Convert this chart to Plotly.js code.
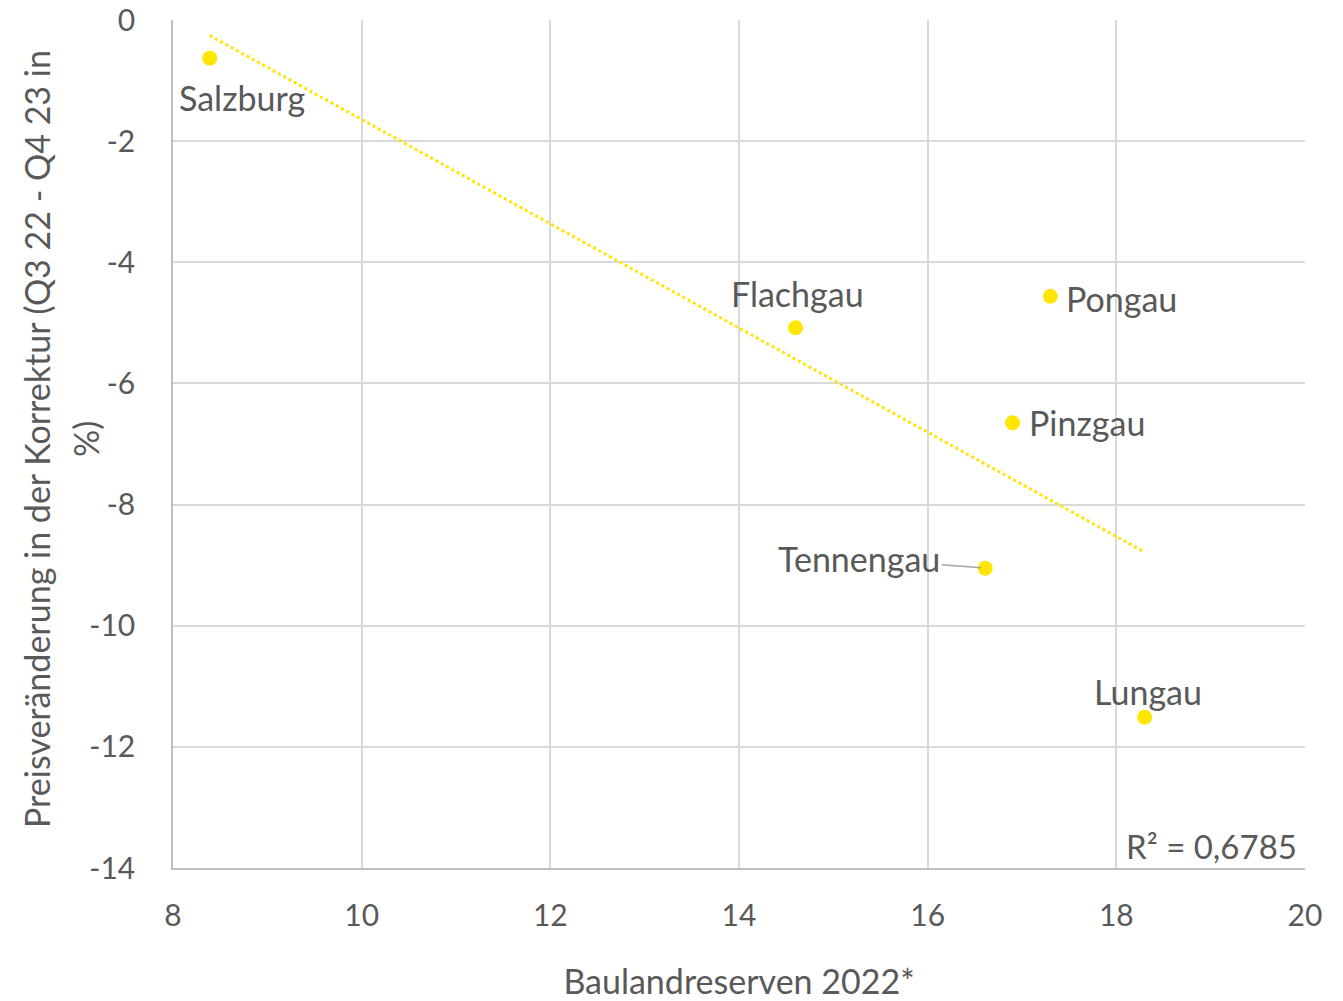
<!DOCTYPE html>
<html>
<head>
<meta charset="utf-8">
<script src="https://cdn.plot.ly/plotly-3.0.1.min.js"></script>
<style>
  body { margin: 0; background: #fff; }
  #chart { width: 1343px; height: 1001px; }
</style>
</head>
<body>
<div id="chart"></div>
<script>
// Bezirke: Baulandreserven vs. Preisänderung
var regions = ['Salzburg', 'Flachgau', 'Pongau', 'Pinzgau', 'Tennengau', 'Lungau'];
var reserves = [8.39, 14.60, 17.30, 16.90, 16.61, 18.30];
var priceChange = [-0.63, -5.08, -4.56, -6.65, -9.05, -11.51];
var rSquaredLabel = 'R² = 0,6785';

// axis ticks (Excel style hyphen minus)
var xTicks = [8, 10, 12, 14, 16, 18, 20];
var yTicks = [0, -2, -4, -6, -8, -10, -12, -14];
var yTickText = ['0', '-2', '-4', '-6', '-8', '-10', '-12', '-14'];

// linear trend (least squares) over the points
var n = reserves.length;
var mx = reserves.reduce((a, b) => a + b, 0) / n;
var my = priceChange.reduce((a, b) => a + b, 0) / n;
var sxy = 0, sxx = 0;
for (var i = 0; i < n; i++) {
  sxy += (reserves[i] - mx) * (priceChange[i] - my);
  sxx += (reserves[i] - mx) * (reserves[i] - mx);
}
var slope = sxy / sxx;
var intercept = my - slope * mx;
var xMin = Math.min(...reserves), xMax = Math.max(...reserves);

var yellow = '#FFE600';
var textCol = '#595959';
var fontFam = 'Lato, "Open Sans", sans-serif';

var trend = {
  x: [xMin, xMax],
  y: [intercept + slope * xMin, intercept + slope * xMax],
  type: 'scatter',
  mode: 'lines',
  line: {color: yellow, width: 3, dash: 'dot'},
  hoverinfo: 'skip'
};

var points = {
  x: reserves,
  y: priceChange,
  text: regions,
  type: 'scatter',
  mode: 'markers',
  marker: {color: yellow, size: 15},
  hoverinfo: 'text+x+y'
};

// label placement per region (offsets in px)
var labelPos = {
  Salzburg:  {xanchor: 'left',   xshift: -33, yshift: -39},
  Flachgau:  {xanchor: 'center', xshift: 2,   yshift: 34},
  Pongau:    {xanchor: 'left',   xshift: 14,  yshift: -2},
  Pinzgau:   {xanchor: 'left',   xshift: 14,  yshift: 0},
  Lungau:    {xanchor: 'center', xshift: 3,   yshift: 26}
};

var labelFont = {family: fontFam, size: 34, color: textCol};

var annotations = regions.map(function (r, i) {
  if (r === 'Tennengau') {
    return {
      x: reserves[i], y: priceChange[i], xref: 'x', yref: 'y',
      text: r, showarrow: true, arrowhead: 0, arrowwidth: 1.5,
      arrowcolor: '#a6a6a6', ax: -126, ay: -10, standoff: 4,
      font: labelFont
    };
  }
  var p = labelPos[r];
  return {
    x: reserves[i], y: priceChange[i], xref: 'x', yref: 'y',
    text: r, showarrow: false, xanchor: p.xanchor, yanchor: 'middle',
    xshift: p.xshift, yshift: p.yshift,
    font: labelFont
  };
});

annotations.push({
  x: 1, y: 0, xref: 'paper', yref: 'paper',
  text: rSquaredLabel, showarrow: false,
  xanchor: 'right', yanchor: 'bottom', xshift: -6, yshift: 0,
  font: {family: fontFam, size: 33, color: textCol}
});

// y axis title, wrapped over two lines like the original
var yTitleLines = ['Preisveränderung in der Korrektur (Q3 22 - Q4 23 in', '%)'];
var yTitleShift = [-137, -88];
yTitleLines.forEach(function (t, k) {
  annotations.push({
    x: 0, y: 0.5, xref: 'paper', yref: 'paper',
    text: t, showarrow: false, textangle: -90,
    xanchor: 'center', yanchor: 'middle',
    xshift: yTitleShift[k], yshift: 5,
    font: {family: fontFam, size: 34, color: textCol}
  });
});

var layout = {
  width: 1343,
  height: 1001,
  showlegend: false,
  paper_bgcolor: '#fff',
  plot_bgcolor: '#fff',
  margin: {l: 173, r: 38, t: 20, b: 133},
  font: {family: fontFam, color: textCol, size: 30},
  xaxis: {
    range: [8, 20],
    tickvals: xTicks,
    showgrid: true,
    gridcolor: '#d9d9d9',
    gridwidth: 1.5,
    zeroline: false,
    showline: true,
    linecolor: '#bfbfbf',
    linewidth: 1.5,
    ticks: '',
    ticklabelstandoff: 20,
    tickfont: {size: 30, color: textCol},
    title: {text: 'Baulandreserven 2022*', standoff: 40, font: {size: 34, color: textCol}}
  },
  yaxis: {
    range: [-14, 0],
    tickvals: yTicks,
    ticktext: yTickText,
    showgrid: true,
    gridcolor: '#d9d9d9',
    gridwidth: 1.5,
    zeroline: false,
    showline: true,
    linecolor: '#bfbfbf',
    linewidth: 1.5,
    ticks: '',
    ticklabelstandoff: 30,
    tickfont: {size: 30, color: textCol}
  },
  annotations: annotations
};

Plotly.newPlot('chart', [trend, points], layout, {displayModeBar: false});
</script>
</body>
</html>
